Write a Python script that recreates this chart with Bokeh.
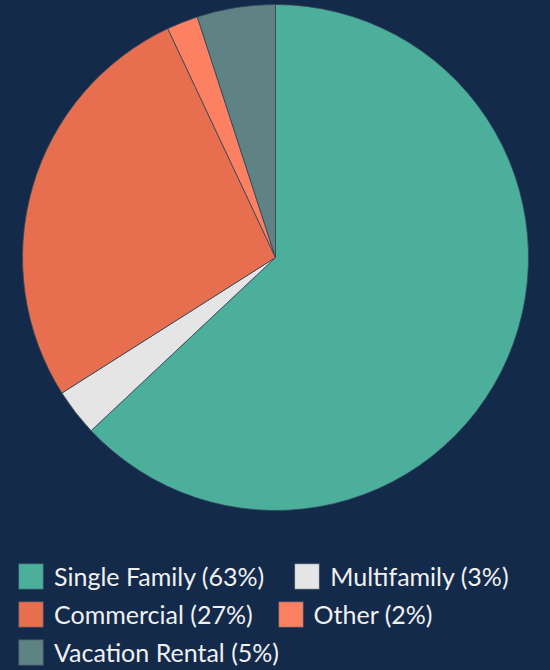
import numpy as np
from bokeh.plotting import figure
from bokeh.models import ColumnDataSource, Range1d, Legend, LegendItem, GlobalInlineStyleSheet
from bokeh.embed import file_html
from bokeh.resources import INLINE

categories = ["Single Family", "Multifamily", "Commercial", "Other", "Vacation Rental"]
values = [63, 3, 27, 2, 5]
colors = ["#4caf9b", "#e5e5e5", "#e76f4f", "#fc8062", "#5f8285"]
labels = ["Single Family (63%)", "Multifamily (3%)", "Commercial (27%)", "Other (2%)", "Vacation Rental (5%)"]

BG = "#142a4b"
W, H = 550, 670
CX, CY, R = 275, H - 257, 253

vals = np.array(values, dtype=float)
frac = vals / vals.sum()
ends = np.pi / 2 - 2 * np.pi * np.cumsum(frac)
starts = np.concatenate([[np.pi / 2], ends[:-1]])

p = figure(width=W, height=H, output_backend="svg", toolbar_location=None,
           x_range=Range1d(0, W), y_range=Range1d(0, H), min_border=0,
           background_fill_color=BG, border_fill_color=BG, outline_line_color=None)
p.axis.visible = False
p.grid.visible = False

renderers = []
for i in range(len(categories)):
    r = p.wedge(x=CX, y=CY, radius=R, start_angle=starts[i], end_angle=ends[i],
                direction="clock", fill_color=colors[i], line_color="#34485a", line_width=0.8)
    renderers.append(r)

rows = [[0, 1], [2, 3], [4]]
row_y = [78, 40, 2]
spacings = [27, 22, 0]
for idx, ys, sp in zip(rows, row_y, spacings):
    items = [LegendItem(label=labels[i], renderers=[renderers[i]]) for i in idx]
    lg = Legend(items=items, orientation="horizontal", location=(15, ys),
                glyph_width=31, glyph_height=32, label_height=32,
                label_standoff=8, spacing=sp, padding=0, margin=0,
                border_line_color=None, background_fill_alpha=0,
                label_text_font="Lato", label_text_font_size="25px",
                label_text_color="#f0f0f0")
    p.add_layout(lg, "center")

p.stylesheets = [GlobalInlineStyleSheet(css=f"html, body {{ margin: 0; padding: 0; background: {BG}; }}")]

open("out.html", "w").write(file_html(p, INLINE))
